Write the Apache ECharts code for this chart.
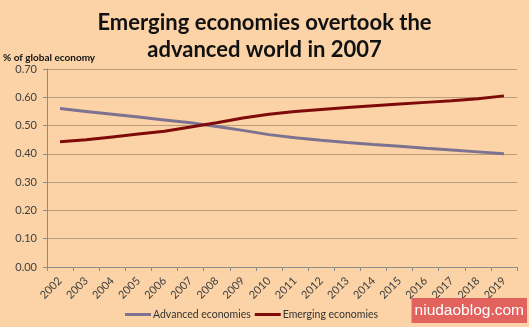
<!DOCTYPE html>
<html><head><meta charset="utf-8">
<script src="https://cdn.jsdelivr.net/npm/echarts@6/dist/echarts.min.js"></script>
<style>html,body{margin:0;padding:0;background:#FBD3A6;}#c{width:529px;height:327px;}</style>
</head><body><div id="c"></div>
<script>
const years = ['2002','2003','2004','2005','2006','2007','2008','2009','2010','2011','2012','2013','2014','2015','2016','2017','2018','2019'];
const advanced = [0.560,0.550,0.540,0.530,0.520,0.510,0.497,0.483,0.468,0.457,0.448,0.440,0.433,0.427,0.420,0.414,0.407,0.400];
const emerging = [0.443,0.450,0.460,0.470,0.480,0.495,0.510,0.527,0.540,0.550,0.557,0.564,0.570,0.576,0.582,0.588,0.595,0.605];
const yTicks = {min:0, max:0.7, interval:0.1};

const chart = echarts.init(document.getElementById('c'));
chart.setOption({
  backgroundColor:'#FBD3A6',
  animation:false,
  title:{
    text:'Emerging economies overtook the\nadvanced world in 2007',
    left:'center', top:4,
    textStyle:{fontFamily:'Lato', fontWeight:'bold', fontSize:22, color:'#111', lineHeight:27}
  },
  grid:{left:47, right:12, top:69, bottom:60},
  legend:{
    bottom:2, left:120, itemWidth:26, itemHeight:3, itemGap:4,
    icon:'rect',
    textStyle:{fontFamily:'Lato', fontSize:10.5, color:'#333', padding:[0,0,0,-3]},
    data:['Advanced economies','Emerging economies']
  },
  xAxis:{
    type:'category', data:years, boundaryGap:true,
    axisLine:{lineStyle:{color:'#8c8c8c'}},
    axisTick:{show:true, length:4, lineStyle:{color:'#8c8c8c'}},
    axisLabel:{rotate:45, fontFamily:'Lato', fontSize:11, color:'#404040', margin:12, interval:0}
  },
  yAxis:{
    type:'value', min:yTicks.min, max:yTicks.max, interval:yTicks.interval,
    name:'% of global economy', nameLocation:'end', nameGap:6,
    nameTextStyle:{fontFamily:'Lato', fontWeight:'bold', fontSize:10, color:'#111', align:'left', padding:[0,0,0,-44]},
    axisLine:{show:true, lineStyle:{color:'#8c8c8c'}},
    axisTick:{show:true, length:4, lineStyle:{color:'#8c8c8c'}},
    axisLabel:{fontFamily:'Lato', fontSize:11, color:'#404040', margin:10, formatter:v=>v.toFixed(2)},
    splitLine:{lineStyle:{color:'#B89C7C', width:1}}
  },
  series:[
    {name:'Advanced economies', type:'line', data:advanced, symbol:'none', smooth:false,
     lineStyle:{color:'#7D7290', width:3}, itemStyle:{color:'#7D7290'}},
    {name:'Emerging economies', type:'line', data:emerging, symbol:'none', smooth:false,
     lineStyle:{color:'#7F0A0A', width:3}, itemStyle:{color:'#7F0A0A'}}
  ],
  graphic:[
    {type:'text', z:101, right:2, bottom:4,
     style:{text:'niudaoblog.com', fill:'#ffffff', fontSize:15.5, fontFamily:'Liberation Sans',
            backgroundColor:'#E2625E', padding:[5,3,4,3]}}
  ]
});
</script></body></html>
